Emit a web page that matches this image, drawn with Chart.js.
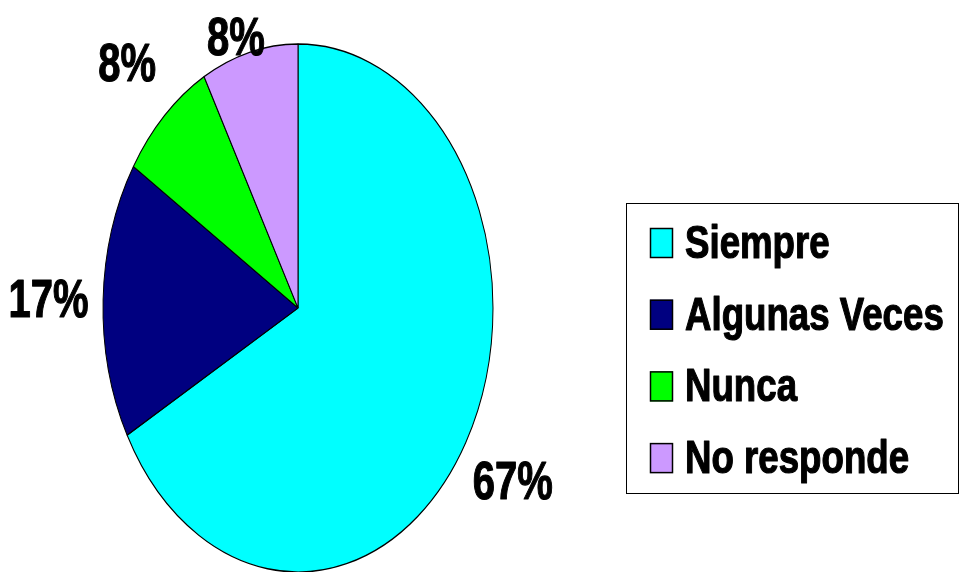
<!DOCTYPE html>
<html>
<head>
<meta charset="utf-8">
<script src="https://cdn.jsdelivr.net/npm/chart.js@4/dist/chart.umd.min.js"></script>
<style>
  html, body { margin: 0; padding: 0; background: #fff; }
  #chart { display: block; }
</style>
</head>
<body>
<canvas id="chart" width="959" height="572"></canvas>
<script>
// Survey answers (percent of respondents)
const labels = ['Siempre', 'Algunas Veces', 'Nunca', 'No responde'];
const values = [67, 17, 8, 8];
const colors = ['#00FFFF', '#000080', '#00FF00', '#CC99FF'];

const FONT = 'bold %spx "Liberation Sans", Arial, sans-serif';

// Pie is drawn as a circle then squashed into an ellipse
const radiusX = 195;
const radiusY = 264;
const stretch = radiusY / radiusX;

// Narrow heavy text: bold font squeezed horizontally, with a thin outline
const drawNarrow = (ctx, text, x, y, size, sx, align) => {
    ctx.save();
    ctx.font = FONT.replace('%s', size);
    ctx.translate(x, y);
    ctx.scale(sx, 1);
    ctx.textAlign = align;
    ctx.textBaseline = 'alphabetic';
    ctx.fillStyle = '#000';
    ctx.strokeStyle = '#000';
    ctx.lineWidth = 1.2;
    ctx.lineJoin = 'round';
    ctx.fillText(text, 0, 0);
    ctx.strokeText(text, 0, 0);
    ctx.restore();
};

const ellipsePlugin = {
    id: 'ellipse',
    beforeDatasetsDraw(chart) {
        const arc = chart.getDatasetMeta(0).data[0];
        const ctx = chart.ctx;
        ctx.save();
        ctx.translate(arc.x, arc.y);
        ctx.scale(1, stretch);
        ctx.translate(-arc.x, -arc.y);
    },
    afterDatasetsDraw(chart) {
        chart.ctx.restore();
    }
};

// Percent labels outside each slice
const pctLabels = {
    id: 'pctLabels',
    afterDraw(chart) {
        const ctx = chart.ctx;
        const meta = chart.getDatasetMeta(0);
        const total = values.reduce((a, b) => a + b, 0);
        const size = 54;
        const capH = size * 0.716;
        meta.data.forEach((arc, i) => {
            const mid = (arc.startAngle + arc.endAngle) / 2;
            const r = arc.outerRadius * 1.28;
            let x = arc.x + Math.cos(mid) * r;
            let y = arc.y + Math.sin(mid) * r * stretch;
            // keep the text inside the canvas
            y = Math.max(y, capH / 2 + 16);
            y = Math.min(y, chart.height - capH / 2 - 16);
            const pct = Math.round(values[i] / total * 100) + '%';
            drawNarrow(ctx, pct, x, y + capH / 2, size, 0.74, 'center');
        });
    }
};

// Boxed legend on the right
const boxLegend = {
    id: 'boxLegend',
    afterDraw(chart) {
        const ctx = chart.ctx;
        const box = { x: 626.5, y: 203.5, w: 332, h: 290 };
        ctx.save();
        ctx.strokeStyle = '#000';
        ctx.lineWidth = 1;
        ctx.strokeRect(box.x, box.y, box.w, box.h);
        const ds = chart.data.datasets[0];
        chart.data.labels.forEach((lab, i) => {
            const base = 258 + i * 71.7;
            ctx.fillStyle = ds.backgroundColor[i];
            ctx.fillRect(650, base - 30, 23, 30);
            ctx.strokeStyle = '#000';
            ctx.lineWidth = 1.5;
            ctx.strokeRect(650.5, base - 29.5, 22, 29);
            drawNarrow(ctx, lab, 685, base, 47, 0.78, 'left');
        });
        ctx.restore();
    }
};

new Chart(document.getElementById('chart'), {
    type: 'pie',
    data: {
        labels: labels,
        datasets: [{
            data: values,
            backgroundColor: colors,
            borderColor: '#000',
            borderWidth: 1,
            borderAlign: 'center',
            radius: radiusX
        }]
    },
    options: {
        responsive: false,
        animation: false,
        events: [],
        layout: {
            padding: { left: 103, right: 466, top: 113, bottom: 69 }
        },
        plugins: {
            legend: { display: false },
            tooltip: { enabled: false }
        }
    },
    plugins: [ellipsePlugin, pctLabels, boxLegend]
});
</script>
</body>
</html>
